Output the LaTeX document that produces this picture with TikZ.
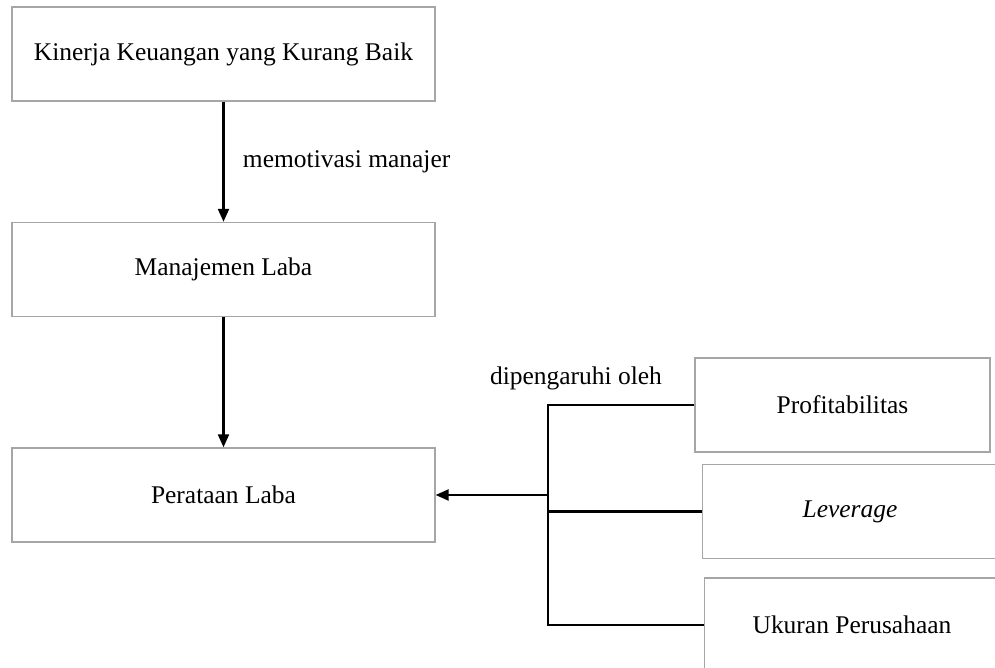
\documentclass[tikz,border=0pt]{standalone}
\usepackage{fontspec}
\setmainfont{Liberation Serif}
\usetikzlibrary{arrows.meta}

\begin{document}
\begin{tikzpicture}[x=0.02cm, y=-0.02cm, thick, font=\fontsize{14.5}{17}\selectfont,
  main/.style = {draw=black!35, line width=0.8pt, rectangle, minimum width=8.46cm, minimum height=1.88cm, inner sep=0pt},
  side/.style = {main, minimum width=5.9cm},
  link/.style = {line width=1.3pt},
  tip/.style = {-{Triangle[length=0.26cm, width=0.22cm]}}]
  \useasboundingbox (0,0) rectangle (995,668);
  \node[main] (1) at (223.5,54) {Kinerja Keuangan yang Kurang Baik};
  \node[main] (2) at (223.5,269.5) {Manajemen Laba};
  \node[main] (3) at (223.5,495) {Perataan Laba};
  \node[side] (4) at (842.5,405) {Profitabilitas};
  \node[side] (5) at (850,511.5) {\textit{Leverage}};
  \node[side] (6) at (852,625) {Ukuran Perusahaan};
  \coordinate (k) at (548,0);

  \draw[link, tip] (1) -- node[right=0.25cm] {memotivasi manajer} (2);
  \draw[link, tip] (2) -- (3);

  \draw[link] (4.west) -- (4.west -| k) -- (6.west -| k) -- (6.west);
  \draw[link] (5.west) -- (5.west -| k);
  \draw[link, tip] (3.east -| k) -- (3.east);
  \node (lbl) at (576,378) {dipengaruhi oleh};
\end{tikzpicture}
\end{document}
